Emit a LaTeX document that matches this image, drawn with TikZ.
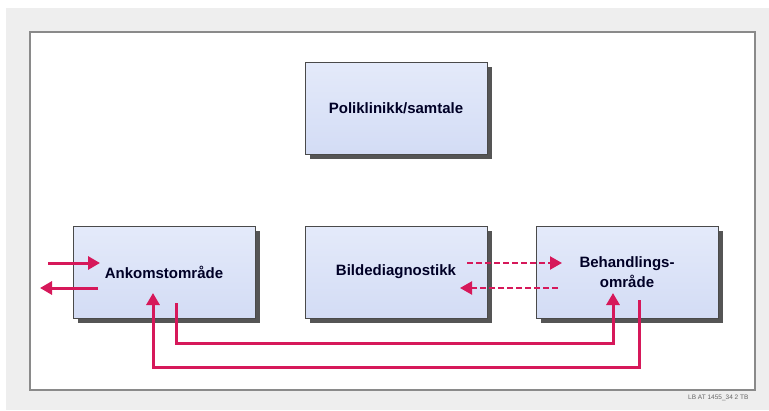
\documentclass[tikz,border=0pt]{standalone}
\usepackage{fontspec}
\setmainfont{Liberation Sans}
\usetikzlibrary{arrows.meta}
\definecolor{outerbg}{HTML}{EEEEEE}
\definecolor{boxfill}{HTML}{D3DCF5}
\definecolor{boxtop}{HTML}{E4EAFA}
\definecolor{boxline}{HTML}{4A4A4A}
\definecolor{shadowc}{HTML}{555555}
\definecolor{flow}{HTML}{D6185A}
\definecolor{panelline}{HTML}{8A8A8A}
\tikzset{
  area/.style={draw=boxline, line width=0.8pt, top color=boxtop, bottom color=boxfill,
    minimum width=182pt, minimum height=92pt, inner sep=0pt, align=center,
    font=\fontsize{15}{20}\selectfont\bfseries, text=black!85!blue},
  shadowbox/.style={fill=shadowc, minimum width=182pt, minimum height=92pt, inner sep=0pt},
  flowline/.style={draw=flow, line width=3pt, -{Triangle[length=12pt,width=13pt]}},
  flowdash/.style={draw=flow, line width=2.2pt, dash pattern=on 6pt off 3pt, -{Triangle[length=12pt,width=13pt]}},
}
\begin{document}
\begin{tikzpicture}[x=1pt,y=-1pt]
\useasboundingbox (0,0) rectangle (769,410);
\fill[white] (0,0) rectangle (769,410);
\fill[outerbg] (6,8) rectangle (769,410);
\fill[white] (30,32) rectangle (755,390);
\draw[panelline, line width=1.2pt] (30,32) rectangle (755,390);

% shadows
\node[shadowbox] (shp) at (401,113) {};
\node[shadowbox] (sha) at (169,277) {};
\node[shadowbox] (shb) at (401,277) {};
\node[shadowbox] (shc) at (632,277) {};

% boxes
\node[area] (poli) at (396,108) {Poliklinikk/samtale};
\node[area] (ank) at (164,272) {Ankomstområde};
\node[area] (bild) at (396,272) {Bildediagnostikk};
\node[area] (beh) at (627,272) {Behandlings-\\område};

% coordinates
\coordinate (inS) at (48,263);
\coordinate (inE) at (100,263);
\coordinate (outS) at (98,288);
\coordinate (outE) at (40,288);
\coordinate (a1) at (176,303);
\coordinate (b1) at (613,293);
\coordinate (b2) at (639,300);
\coordinate (a2) at (153,293);
\coordinate (d1s) at (467,263);
\coordinate (d1e) at (562,263);
\coordinate (d2s) at (558,288);
\coordinate (d2e) at (460,288);

\draw[flowline] (inS) -- (inE);
\draw[flowline] (outS) -- (outE);
\draw[flowline] (a1) -- (176,343) -- (613,343) -- (b1);
\draw[flowline] (b2) -- (639,367) -- (153,367) -- (a2);
\draw[flowdash] (d1s) -- (d1e);
\draw[flowdash] (d2s) -- (d2e);

\node[font=\fontsize{6.5}{7}\selectfont, text=black!60, anchor=east] (lbl) at (752,398) {LB AT 1455\_34 2 TB};
\end{tikzpicture}
\end{document}
